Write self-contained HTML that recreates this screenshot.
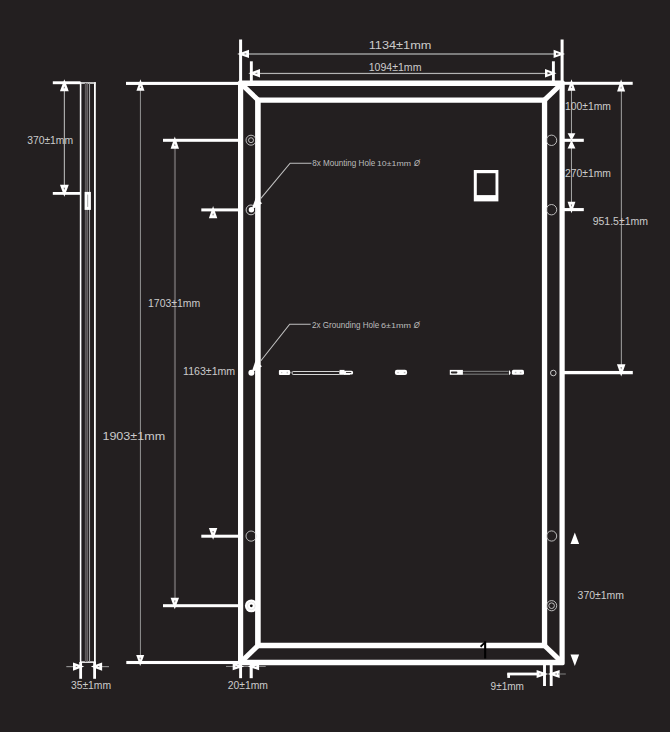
<!DOCTYPE html>
<html><head><meta charset="utf-8"><title>Panel dimensions</title>
<style>
html,body{margin:0;padding:0;background:#231f20;}
body{width:670px;height:732px;overflow:hidden;}
svg{display:block;}
svg text{font-family:"Liberation Sans",sans-serif;}
</style></head><body>
<svg width="670" height="732" viewBox="0 0 670 732">
<rect x="0" y="0" width="670" height="732" fill="#231f20"/>
<rect x="79.82" y="82.20" width="1.55" height="580.60" fill="#ffffff" />
<rect x="94.00" y="82.20" width="1.80" height="580.60" fill="#ffffff" />
<rect x="80.00" y="82.20" width="15.90" height="1.60" fill="#e8e8e8" />
<rect x="80.00" y="661.35" width="15.70" height="1.50" fill="#ffffff" />
<rect x="84.85" y="83.00" width="1.50" height="579.00" fill="#5e5a5b" />
<rect x="86.60" y="83.00" width="1.20" height="579.00" fill="#7a7677" />
<rect x="88.95" y="83.00" width="1.10" height="579.00" fill="#a4a4a4" />
<rect x="84.60" y="191.90" width="6.30" height="18.00" fill="#ffffff" />
<rect x="87.00" y="194.60" width="1.20" height="12.30" fill="#b8b8b8" />
<rect x="52.80" y="81.30" width="27.70" height="2.90" fill="#ffffff" />
<rect x="52.80" y="192.00" width="27.70" height="2.80" fill="#ffffff" />
<rect x="63.80" y="90.00" width="1.20" height="96.00" fill="#a8a8a8" />
<polygon points="64.35,79.20 59.95,91.30 68.75,91.30" fill="#ffffff"/>
<polygon points="64.35,86.15 63.56,88.32 65.14,88.32" fill="#757172"/>
<polygon points="64.35,196.80 59.95,184.80 68.75,184.80" fill="#ffffff"/>
<polygon points="64.35,189.91 63.56,187.75 65.14,187.75" fill="#757172"/>
<rect x="79.25" y="662.00" width="2.80" height="16.80" fill="#ffffff" />
<rect x="93.20" y="662.00" width="2.80" height="16.80" fill="#ffffff" />
<rect x="66.30" y="666.00" width="7.20" height="1.20" fill="#8c8c8c" />
<rect x="101.80" y="666.00" width="7.20" height="1.20" fill="#8c8c8c" />
<polygon points="84.30,666.60 73.00,662.50 73.00,670.70" fill="#ffffff"/>
<polygon points="77.81,666.60 75.78,665.86 75.78,667.34" fill="#757172"/>
<polygon points="90.80,666.60 102.10,662.50 102.10,670.70" fill="#ffffff"/>
<polygon points="97.29,666.60 99.32,665.86 99.32,667.34" fill="#757172"/>
<path d="M239.6 80.55 H563.1 Q564.7 80.55 564.7 82.14999999999999 V663.6 Q564.7 665.2 563.1 665.2 H239.6 Q238.0 665.2 238.0 663.6 V82.14999999999999 Q238.0 80.55 239.6 80.55 Z M243.2 85.9 V659.7 H559.5 V85.9 Z" fill="#fff" fill-rule="evenodd"/>
<path d="M255.1 97.45 H547.2 V648.3 H255.1 Z M260.7 102.7 V642.8 H541.9 V102.7 Z" fill="#fff" fill-rule="evenodd"/>
<line x1="240.6" y1="83.3" x2="257.9" y2="99.9" stroke="#ffffff" stroke-width="5.0"/>
<line x1="562.1" y1="83.3" x2="544.7" y2="99.9" stroke="#ffffff" stroke-width="5.0"/>
<line x1="240.6" y1="662.4" x2="257.9" y2="645.7" stroke="#ffffff" stroke-width="5.0"/>
<line x1="562.1" y1="662.4" x2="544.7" y2="645.7" stroke="#ffffff" stroke-width="5.0"/>
<rect x="239.10" y="39.50" width="3.00" height="43.50" fill="#ffffff" />
<rect x="560.60" y="39.50" width="3.00" height="43.50" fill="#ffffff" />
<rect x="248.00" y="53.00" width="306.00" height="2.00" fill="#7c7c7c" />
<polygon points="237.20,53.90 249.00,49.80 249.00,58.00" fill="#ffffff"/>
<polygon points="243.64,53.90 246.24,53.00 246.24,54.80" fill="#8a8a8a"/>
<polygon points="565.00,53.90 553.60,49.80 553.60,58.00" fill="#ffffff"/>
<polygon points="559.25,53.90 556.06,52.75 556.06,55.05" fill="#3d393a"/>
<rect x="249.90" y="61.30" width="2.90" height="21.70" fill="#ffffff" />
<rect x="551.95" y="61.30" width="2.90" height="21.70" fill="#ffffff" />
<rect x="259.00" y="72.85" width="287.00" height="1.20" fill="#b4b4b4" />
<polygon points="248.40,73.30 260.00,69.10 260.00,77.50" fill="#ffffff"/>
<polygon points="254.73,73.30 257.29,72.38 257.29,74.22" fill="#8a8a8a"/>
<polygon points="556.60,73.30 545.00,69.10 545.00,77.50" fill="#ffffff"/>
<polygon points="550.75,73.30 547.51,72.12 547.51,74.48" fill="#3d393a"/>
<rect x="126.00" y="81.85" width="113.00" height="3.10" fill="#ffffff" />
<rect x="163.00" y="138.80" width="76.00" height="3.00" fill="#ffffff" />
<rect x="201.30" y="208.40" width="37.70" height="3.00" fill="#ffffff" />
<rect x="201.30" y="534.70" width="37.70" height="3.00" fill="#ffffff" />
<rect x="163.00" y="604.20" width="76.00" height="3.00" fill="#ffffff" />
<rect x="126.30" y="660.95" width="112.70" height="3.10" fill="#ffffff" />
<rect x="139.90" y="90.00" width="1.10" height="566.00" fill="#888888" />
<rect x="173.90" y="148.00" width="2.10" height="451.00" fill="#5e5a5b" />
<polygon points="140.45,79.20 136.45,90.80 144.45,90.80" fill="#ffffff"/>
<polygon points="140.45,85.86 139.73,87.95 141.17,87.95" fill="#757172"/>
<polygon points="174.80,136.50 170.60,148.80 179.00,148.80" fill="#ffffff"/>
<polygon points="174.80,143.56 174.04,145.77 175.56,145.77" fill="#757172"/>
<polygon points="213.10,206.10 208.90,218.20 217.30,218.20" fill="#ffffff"/>
<polygon points="213.10,213.05 212.34,215.22 213.86,215.22" fill="#757172"/>
<polygon points="213.10,539.70 208.90,528.10 217.30,528.10" fill="#ffffff"/>
<polygon points="213.10,533.04 212.34,530.95 213.86,530.95" fill="#757172"/>
<polygon points="174.80,609.20 170.60,597.80 179.00,597.80" fill="#ffffff"/>
<polygon points="174.80,602.66 174.04,600.60 175.56,600.60" fill="#757172"/>
<polygon points="140.20,666.00 136.20,655.10 144.20,655.10" fill="#ffffff"/>
<polygon points="140.20,659.74 139.48,657.78 140.92,657.78" fill="#757172"/>
<rect x="564.00" y="81.80" width="68.70" height="3.00" fill="#ffffff" />
<rect x="564.00" y="138.75" width="19.80" height="3.10" fill="#ffffff" />
<rect x="564.00" y="208.05" width="19.80" height="3.10" fill="#ffffff" />
<rect x="564.00" y="370.95" width="68.80" height="3.30" fill="#ffffff" />
<rect x="570.95" y="90.00" width="1.00" height="112.50" fill="#a8a8a8" />
<rect x="620.85" y="90.00" width="1.00" height="275.00" fill="#a2a2a2" />
<polygon points="571.50,79.20 567.60,90.80 575.40,90.80" fill="#ffffff"/>
<polygon points="571.50,85.86 570.80,87.95 572.20,87.95" fill="#757172"/>
<polygon points="621.10,79.20 617.10,91.40 625.10,91.40" fill="#ffffff"/>
<polygon points="621.10,86.20 620.38,88.40 621.82,88.40" fill="#757172"/>
<polygon points="571.50,140.60 567.60,133.30 575.40,133.30" fill="#ffffff"/>
<polygon points="571.50,140.00 567.60,148.40 575.40,148.40" fill="#ffffff"/>
<polygon points="571.50,213.20 567.60,201.80 575.40,201.80" fill="#ffffff"/>
<polygon points="571.50,206.66 570.80,204.60 572.20,204.60" fill="#757172"/>
<polygon points="621.20,376.50 616.95,364.30 625.45,364.30" fill="#ffffff"/>
<polygon points="621.20,369.50 620.44,367.30 621.97,367.30" fill="#757172"/>
<polygon points="574.80,532.50 570.50,544.10 579.10,544.10" fill="#ffffff"/>
<polygon points="574.80,666.00 570.50,654.40 579.10,654.40" fill="#ffffff"/>
<rect x="239.15" y="664.00" width="2.90" height="14.20" fill="#ffffff" />
<rect x="249.65" y="664.00" width="3.10" height="14.20" fill="#ffffff" />
<rect x="226.00" y="665.95" width="39.70" height="0.90" fill="#9a9a9a" />
<polygon points="244.20,666.40 232.70,662.60 232.70,670.20" fill="#ffffff"/>
<polygon points="237.60,666.40 235.53,665.72 235.53,667.08" fill="#757172"/>
<polygon points="247.80,666.40 259.10,662.60 259.10,670.20" fill="#ffffff"/>
<polygon points="254.29,666.40 256.32,665.72 256.32,667.08" fill="#757172"/>
<rect x="543.05" y="664.00" width="2.90" height="22.00" fill="#ffffff" />
<rect x="549.75" y="664.00" width="2.90" height="22.00" fill="#ffffff" />
<rect x="507.30" y="672.60" width="33.70" height="2.80" fill="#ffffff" />
<rect x="507.30" y="673.30" width="2.70" height="4.60" fill="#ffffff" />
<polygon points="548.20,674.00 536.60,669.95 536.60,678.05" fill="#ffffff"/>
<polygon points="541.54,674.00 539.45,673.27 539.45,674.73" fill="#757172"/>
<polygon points="547.80,674.00 559.60,669.95 559.60,678.05" fill="#ffffff"/>
<polygon points="554.57,674.00 556.70,673.27 556.70,674.73" fill="#757172"/>
<rect x="558.00" y="673.55" width="7.80" height="0.90" fill="#8c8c8c" />
<circle cx="251.00" cy="140.20" r="5.00" fill="none" stroke="#e0e0e0" stroke-width="0.8"/>
<circle cx="251.00" cy="140.20" r="2.50" fill="none" stroke="#e0e0e0" stroke-width="0.8"/>
<circle cx="251.00" cy="209.90" r="4.90" fill="none" stroke="#e0e0e0" stroke-width="0.9"/>
<circle cx="251.10" cy="536.10" r="5.10" fill="none" stroke="#e0e0e0" stroke-width="0.8"/>
<circle cx="251.3" cy="605.85" r="6.4" fill="#fff"/>
<circle cx="251.30" cy="605.85" r="3.90" fill="none" stroke="#dedede" stroke-width="0.7"/>
<circle cx="251.3" cy="605.85" r="1.4" fill="#0c0a0a"/>
<circle cx="551.50" cy="140.30" r="5.20" fill="none" stroke="#e0e0e0" stroke-width="0.8"/>
<circle cx="551.50" cy="209.70" r="5.20" fill="none" stroke="#e0e0e0" stroke-width="0.8"/>
<circle cx="553.30" cy="373.00" r="2.80" fill="none" stroke="#d8d8d8" stroke-width="0.9"/>
<circle cx="551.60" cy="536.00" r="5.10" fill="none" stroke="#e0e0e0" stroke-width="0.8"/>
<circle cx="551.60" cy="605.70" r="5.10" fill="none" stroke="#e0e0e0" stroke-width="0.8"/>
<circle cx="551.60" cy="605.70" r="2.80" fill="none" stroke="#e0e0e0" stroke-width="0.8"/>
<polyline points="260.90,198.29 290.1,163.2 311.5,163.2" fill="none" stroke="#c0c0c0" stroke-width="1.1"/>
<polygon points="251.40,209.70 262.18,203.32 255.72,197.94" fill="#ffffff"/>
<circle cx="251.4" cy="209.7" r="2.7" fill="#fff"/>
<polyline points="260.90,360.75 289.7,324.2 310.7,324.2" fill="none" stroke="#c0c0c0" stroke-width="1.1"/>
<polygon points="251.40,372.80 262.00,366.13 255.40,360.93" fill="#ffffff"/>
<circle cx="251.4" cy="372.8" r="3.0" fill="#fff"/>
<rect x="473.80" y="170.00" width="24.60" height="31.40" fill="#ffffff" />
<rect x="476.80" y="173.20" width="18.70" height="21.90" fill="#231f20" />
<rect x="278.9" y="370.0" width="11.1" height="4.9" rx="0.9" fill="#fff"/>
<rect x="281.00" y="372.00" width="1.30" height="1.20" fill="#c4c4c4" />
<rect x="286.60" y="371.80" width="1.40" height="1.60" fill="#c4c4c4" />
<rect x="290.0" y="371.6" width="1.6" height="1.8" fill="#8a8a8a"/>
<rect x="292.3" y="371.5" width="47.6" height="3.0" rx="0.8" fill="none" stroke="#d4d4d4" stroke-width="1.0"/>
<rect x="339.60" y="369.90" width="5.00" height="4.90" fill="#ffffff" />
<rect x="343.6" y="370.8" width="9.5" height="3.8" rx="1.6" fill="#fff"/>
<rect x="344.00" y="373.40" width="6.00" height="1.40" fill="#ffffff" />
<rect x="345.9" y="371.9" width="5.5" height="1.2" rx="0.5" fill="#3d393a"/>
<rect x="394.9" y="369.8" width="12.2" height="5.2" rx="2.1" fill="#fff"/>
<rect x="397.40" y="371.90" width="1.20" height="1.30" fill="#b8b8b8" />
<rect x="403.80" y="371.90" width="1.60" height="1.30" fill="#b8b8b8" />
<rect x="449.80" y="369.90" width="13.10" height="4.90" fill="#ffffff" />
<rect x="450.9" y="371.4" width="6.5" height="2.0" rx="0.8" fill="#2a2627"/>
<rect x="463.00" y="370.80" width="45.40" height="1.20" fill="#727272" />
<rect x="463.00" y="373.60" width="45.40" height="1.20" fill="#727272" />
<path d="M508.9 370.5 L509.8 370.5 Q511.2 372.6 509.8 374.7 L508.9 374.7 Z" fill="#fff"/>
<rect x="511.9" y="369.8" width="12.1" height="5.0" rx="1.6" fill="#fff"/>
<rect x="514.80" y="371.80" width="1.60" height="1.40" fill="#bdbdbd" />
<rect x="519.80" y="371.80" width="1.60" height="1.40" fill="#bdbdbd" />
<path d="M484.1 641.2 L486.2 641.2 L486.2 658.6 L484.1 658.6 L484.1 644.6 L481.2 647.4 L479.9 646.0 L484.1 641.9 Z" fill="#000"/>
<text x="368.70" y="49.10" font-size="11.7" fill="#cbcbcb" textLength="62.70" lengthAdjust="spacingAndGlyphs" >1134±1mm</text>
<text x="368.70" y="70.80" font-size="10.1" fill="#cbcbcb" textLength="52.80" lengthAdjust="spacingAndGlyphs" >1094±1mm</text>
<text x="27.20" y="144.20" font-size="10.1" fill="#cbcbcb" textLength="45.90" lengthAdjust="spacingAndGlyphs" >370±1mm</text>
<text x="148.00" y="307.00" font-size="10.1" fill="#cbcbcb" textLength="52.30" lengthAdjust="spacingAndGlyphs" >1703±1mm</text>
<text x="183.10" y="375.30" font-size="10.1" fill="#cbcbcb" textLength="52.10" lengthAdjust="spacingAndGlyphs" >1163±1mm</text>
<text x="102.40" y="440.30" font-size="11.7" fill="#cbcbcb" textLength="62.80" lengthAdjust="spacingAndGlyphs" >1903±1mm</text>
<text x="565.00" y="110.00" font-size="10.1" fill="#cbcbcb" textLength="45.90" lengthAdjust="spacingAndGlyphs" >100±1mm</text>
<text x="565.00" y="176.70" font-size="10.1" fill="#cbcbcb" textLength="46.00" lengthAdjust="spacingAndGlyphs" >270±1mm</text>
<text x="592.70" y="224.80" font-size="10.1" fill="#cbcbcb" textLength="55.30" lengthAdjust="spacingAndGlyphs" >951.5±1mm</text>
<text x="577.60" y="599.00" font-size="10.1" fill="#cbcbcb" textLength="46.40" lengthAdjust="spacingAndGlyphs" >370±1mm</text>
<text x="70.90" y="689.00" font-size="10.1" fill="#cbcbcb" textLength="40.20" lengthAdjust="spacingAndGlyphs" >35±1mm</text>
<text x="227.80" y="689.00" font-size="10.1" fill="#cbcbcb" textLength="40.20" lengthAdjust="spacingAndGlyphs" >20±1mm</text>
<text x="490.60" y="689.90" font-size="10.1" fill="#cbcbcb" textLength="33.40" lengthAdjust="spacingAndGlyphs" >9±1mm</text>
<text x="312.20" y="166.20" font-size="8.4" fill="#bcbcbc" textLength="63.00" lengthAdjust="spacingAndGlyphs" >8x Mounting Hole</text>
<text x="377.00" y="166.20" font-size="6.8" fill="#bcbcbc" textLength="34.00" lengthAdjust="spacingAndGlyphs" >10±1mm</text>
<text x="414.00" y="166.20" font-size="8.2" fill="#bcbcbc" textLength="6.00" lengthAdjust="spacingAndGlyphs" font-style="italic">Ø</text>
<text x="312.00" y="327.80" font-size="8.4" fill="#bcbcbc" textLength="67.30" lengthAdjust="spacingAndGlyphs" >2x Grounding Hole</text>
<text x="381.10" y="327.80" font-size="6.8" fill="#bcbcbc" textLength="30.00" lengthAdjust="spacingAndGlyphs" >6±1mm</text>
<text x="413.80" y="327.80" font-size="8.2" fill="#bcbcbc" textLength="6.00" lengthAdjust="spacingAndGlyphs" font-style="italic">Ø</text>
</svg>
</body></html>
